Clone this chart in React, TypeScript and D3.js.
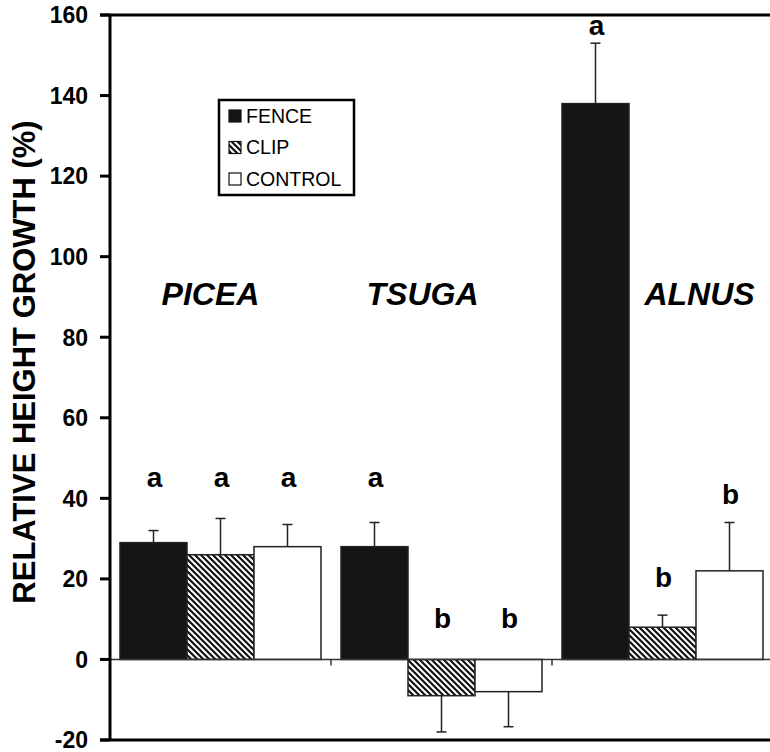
import React from "react";
import * as d3 from "d3";

const categories = ["PICEA", "TSUGA", "ALNUS"];
const treatments = ["FENCE", "CLIP", "CONTROL"];
const fenceValues = [29, 28, 138];
const clipValues = [26, -9, 8];
const controlValues = [28, -8, 22];
const fenceErrors = [3, 6, 15];
const clipErrors = [9, 9, 3];
const controlErrors = [5.5, 8.7, 12];
const fenceLetters = ["a", "a", "a"];
const clipLetters = ["a", "b", "b"];
const controlLetters = ["a", "b", "b"];
const fenceLetterAt = [42.7, 42.7, 155];
const clipLetterAt = [42.7, 7.7, 18];
const controlLetterAt = [42.7, 7.7, 38.5];
const yTicks = [-20, 0, 20, 40, 60, 80, 100, 120, 140, 160];

const W = 770;
const H = 752;
const left = 110;
const top = 15;
const bottom = 740;
const right = 773;

const FONT = "'Liberation Sans', Arial, Helvetica, sans-serif";

export default function App() {
  const y = d3.scaleLinear().domain([-20, 160]).range([bottom, top]);
  const x0 = d3.scaleBand<string>().domain(categories).range([left, right]).padding(0);
  const inner = 201;
  const x1 = d3
    .scaleBand<string>()
    .domain(treatments)
    .range([0, inner])
    .padding(0);
  const series = [
    { key: "FENCE", values: fenceValues, errs: fenceErrors, letters: fenceLetters, at: fenceLetterAt, fill: "#151515" },
    { key: "CLIP", values: clipValues, errs: clipErrors, letters: clipLetters, at: clipLetterAt, fill: "url(#hatch)" },
    { key: "CONTROL", values: controlValues, errs: controlErrors, letters: controlLetters, at: controlLetterAt, fill: "#ffffff" },
  ];
  const labelDx = [-10, -19, 37];
  const y0 = y(0);

  return (
    <svg width={W} height={H} style={{ display: "block", position: "absolute", left: 0, top: 0 }}>
      <defs>
        <pattern id="hatch" width={6} height={6} patternUnits="userSpaceOnUse">
          <rect width={6} height={6} fill="#fff" />
          <path d="M0,0 L6,6 M-3,3 L3,9 M3,-3 L9,3" stroke="#111" strokeWidth={2.2} />
        </pattern>
      </defs>
      <rect width={W} height={H} fill="#fff" />

      {/* bars */}
      {categories.map((c, i) => {
        const gx = (x0(c) as number) + (x0.bandwidth() - inner) / 2;
        return (
          <g key={c}>
            {series.map((s) => {
              const v = s.values[i];
              const bx = gx + (x1(s.key) as number);
              const bw = x1.bandwidth();
              const cx = bx + bw / 2;
              const yv = y(v);
              const ye = y(v >= 0 ? v + s.errs[i] : v - s.errs[i]);
              return (
                <g key={s.key}>
                  <line x1={cx} x2={cx} y1={yv} y2={ye} stroke="#222" strokeWidth={1.5} />
                  <line x1={cx - 5} x2={cx + 5} y1={ye} y2={ye} stroke="#222" strokeWidth={1.5} />
                  <rect
                    x={bx}
                    y={Math.min(yv, y0)}
                    width={bw}
                    height={Math.abs(yv - y0)}
                    fill={s.fill}
                    stroke="#222"
                    strokeWidth={1.5}
                  />
                  <text
                    x={cx + 1}
                    y={y(s.at[i])}
                    textAnchor="middle"
                    fontFamily={FONT}
                    fontWeight="bold"
                    fontSize={28}
                    fill="#000"
                  >
                    {s.letters[i]}
                  </text>
                </g>
              );
            })}
            <text
              x={(x0(c) as number) + x0.bandwidth() / 2 + labelDx[i]}
              y={y(88)}
              textAnchor="middle"
              fontFamily={FONT}
              fontWeight="bold"
              fontStyle="italic"
              fontSize={32}
              fill="#000"
            >
              {c}
            </text>
          </g>
        );
      })}

      {/* zero line and category ticks */}
      <line x1={left} x2={right} y1={y0} y2={y0} stroke="#333" strokeWidth={1.5} />
      {categories.slice(1).map((c) => (
        <line key={c} x1={x0(c) as number} x2={x0(c) as number} y1={y0} y2={y0 + 6} stroke="#333" strokeWidth={1.5} />
      ))}

      {/* frame */}
      <line x1={left} x2={left} y1={top} y2={bottom} stroke="#000" strokeWidth={3} />
      <line x1={left - 10} x2={W} y1={top} y2={top} stroke="#000" strokeWidth={3} />
      <line x1={left - 10} x2={W} y1={bottom} y2={bottom} stroke="#000" strokeWidth={3} />
      {yTicks.map((t) => (
        <g key={t}>
          <line x1={left - 10} x2={left} y1={y(t)} y2={y(t)} stroke="#000" strokeWidth={3} />
          <text
            x={left - 22}
            y={y(t)}
            dy="0.36em"
            textAnchor="end"
            fontFamily={FONT}
            fontWeight="bold"
            fontSize={23}
            fill="#000"
          >
            {t}
          </text>
        </g>
      ))}

      {/* y title */}
      <text
        transform={`translate(35, 362) rotate(-90)`}
        textAnchor="middle"
        fontFamily={FONT}
        fontWeight="bold"
        fontSize={31}
        fill="#000"
      >
        RELATIVE HEIGHT GROWTH (%)
      </text>

      {/* legend */}
      <rect x={219} y={100} width={135} height={95} fill="#fff" stroke="#000" strokeWidth={2.5} />
      {series.map((s, i) => (
        <g key={s.key}>
          <rect x={229} y={110 + i * 31.5} width={12} height={12} fill={s.fill} stroke="#111" strokeWidth={1.2} />
          <text x={246} y={122.5 + i * 31.5} fontFamily={FONT} fontSize={19.5} fill="#000">
            {s.key}
          </text>
        </g>
      ))}
    </svg>
  );
}
